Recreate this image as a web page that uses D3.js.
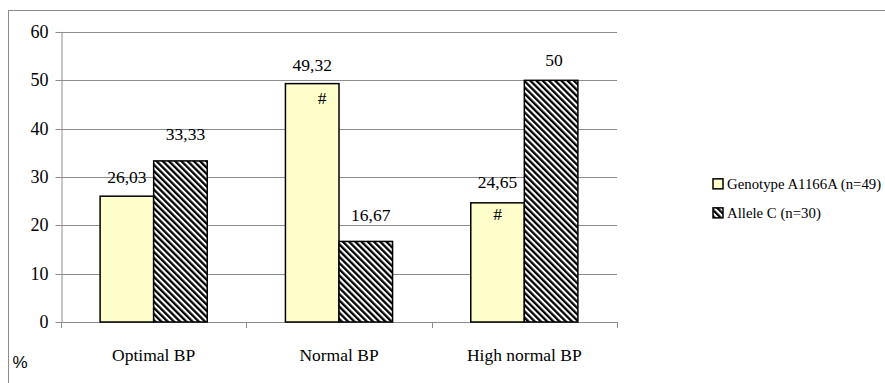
<!DOCTYPE html>
<html><head><meta charset="utf-8">
<script src="https://cdn.jsdelivr.net/npm/d3@7"></script>
<style>body{margin:0;background:#fff}svg{display:block}</style>
</head><body>
<script>
const categories = ["Optimal BP", "Normal BP", "High normal BP"];
const seriesNames = ["Genotype A1166A (n=49)", "Allele C (n=30)"];
const genotypeValues = [26.03, 49.32, 24.65];
const alleleValues = [33.33, 16.67, 50];
const genotypeMarks = ["", "#", "#"];
const yTicks = [0, 10, 20, 30, 40, 50, 60];
const yUnit = "%";

// layout-only nudges for value labels [series][category] -> [dx, dy above bar top]
const labelNudge = [[[0, 13], [0, 13], [0, 15]], [[5, 21], [5, 20], [3, 14]]];
const markNudge = [[0, 0], [10, 14], [0, 11]];

const W = 885, H = 383;
const svg = d3.select("body").append("svg").attr("width", W).attr("height", H);
const SERIF = '"Liberation Serif"';
const SANS = '"Liberation Sans"';
const FS_TICK = "18px", FS_VAL = "17.5px", FS_CAT = "17.5px", FS_LEG = "14.8px";

svg.append("rect").attr("x", 8.5).attr("y", 10.5).attr("width", W + 20).attr("height", H + 20)
  .attr("fill", "none").attr("stroke", "#8c8c8c").attr("stroke-width", 1);

const defs = svg.append("defs");
const pat = defs.append("pattern").attr("id", "hatch").attr("patternUnits", "userSpaceOnUse")
  .attr("width", 4.4).attr("height", 4.4).attr("patternTransform", "rotate(-45)");
pat.append("rect").attr("width", 4.4).attr("height", 4.4).attr("fill", "#fff");
pat.append("rect").attr("width", 2.3).attr("height", 4.4).attr("fill", "#000");

const plotL = 61, plotR = 617, plotT = 32, plotB = 322;
const x0 = d3.scaleBand().domain(categories).range([plotL, plotR]).padding(0);
const x1 = d3.scaleBand().domain([0, 1]).range([0, x0.bandwidth()]).paddingInner(0).paddingOuter(0.73);
const y = d3.scaleLinear().domain([0, 60]).range([plotB, plotT]);

const grid = "#8c8c8c";
svg.append("g").selectAll("line").data(yTicks.filter(d => d > 0)).join("line")
  .attr("x1", plotL).attr("x2", plotR).attr("y1", d => Math.round(y(d)) + 0.5).attr("y2", d => Math.round(y(d)) + 0.5)
  .attr("stroke", grid).attr("stroke-width", 1);

const yAxis = svg.append("g").attr("transform", `translate(${plotL + 0.5},0.5)`)
  .call(d3.axisLeft(y).tickValues(yTicks).tickSize(6).tickPadding(7).tickSizeOuter(0));
yAxis.select(".domain").attr("stroke", grid);
yAxis.selectAll(".tick line").attr("stroke", grid);
yAxis.selectAll(".tick text").style("font-family", SERIF).style("font-size", FS_TICK).attr("fill", "#000");
yAxis.selectAll(".tick").attr("transform", d => `translate(0,${Math.round(y(d))})`);

const xa = svg.append("g");
xa.append("line").attr("x1", plotL).attr("x2", plotR).attr("y1", plotB + 0.5).attr("y2", plotB + 0.5).attr("stroke", grid);
const bounds = categories.map(c => x0(c)).concat([x0(categories[categories.length - 1]) + x0.bandwidth()]);
xa.selectAll("line.tk").data(bounds).join("line").attr("class", "tk")
  .attr("x1", d => Math.round(d) + 0.5).attr("x2", d => Math.round(d) + 0.5)
  .attr("y1", plotB).attr("y2", plotB + 6).attr("stroke", grid);
xa.selectAll("text").data(categories).join("text")
  .attr("x", d => x0(d) + x0.bandwidth() / 2).attr("y", 361)
  .attr("text-anchor", "middle").style("font-family", SERIF).style("font-size", FS_CAT).text(d => d);

const series = [genotypeValues, alleleValues];
const fills = ["#FFFFCC", "url(#hatch)"];
series.forEach((vals, si) => {
  const g = svg.append("g");
  g.selectAll("rect").data(vals).join("rect")
    .attr("x", (d, i) => x0(categories[i]) + x1(si))
    .attr("y", d => y(d))
    .attr("width", x1.bandwidth())
    .attr("height", d => plotB - y(d))
    .attr("fill", fills[si]).attr("stroke", "#000").attr("stroke-width", 1.5);
  g.selectAll("text").data(vals).join("text")
    .attr("x", (d, i) => x0(categories[i]) + x1(si) + x1.bandwidth() / 2 + labelNudge[si][i][0])
    .attr("y", (d, i) => y(d) - labelNudge[si][i][1])
    .attr("text-anchor", "middle").style("font-family", SERIF).style("font-size", FS_VAL)
    .text(d => String(d).replace(".", ","));
});
svg.append("g").selectAll("text").data(genotypeMarks).join("text")
  .attr("x", (d, i) => x0(categories[i]) + x1(0) + x1.bandwidth() / 2 + markNudge[i][0])
  .attr("y", (d, i) => y(genotypeValues[i]) + markNudge[i][1] + 6)
  .attr("text-anchor", "middle").style("font-family", SERIF).style("font-size", FS_VAL).text(d => d);

svg.append("text").attr("x", 20).attr("y", 368).attr("text-anchor", "middle")
  .style("font-family", SANS).style("font-size", "17px").text(yUnit);

const lg = svg.append("g").attr("transform", "translate(713,0)");
const legY = [y(genotypeValues[2]) - 19, y(genotypeValues[2]) + 10];
seriesNames.forEach((name, i) => {
  lg.append("rect").attr("x", 0).attr("y", legY[i] - 5).attr("width", 10).attr("height", 10)
    .attr("fill", fills[i]).attr("stroke", "#000").attr("stroke-width", 1.5);
  lg.append("text").attr("x", 14).attr("y", legY[i] + 5)
    .style("font-family", SERIF).style("font-size", FS_LEG).text(name);
});
</script>
</body></html>
